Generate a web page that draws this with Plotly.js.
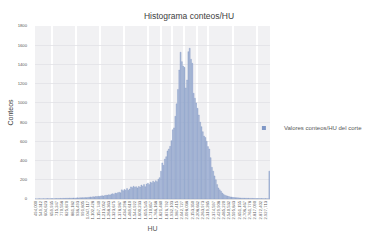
<!DOCTYPE html>
<html>
<head>
<meta charset="utf-8">
<script src="https://cdn.plot.ly/plotly-3.0.1.min.js"></script>
<style>html,body{margin:0;padding:0;background:#fff;}#chart{width:378px;height:244px;}</style>
</head>
<body>
<div id="chart"></div>
<script>
// Counts per HU bin
const counts = [
  2,1,2,3,2,2,3,2,3,4, 3,3,4,4,3,5,4,5,5,6,
  5,7,6,7,8,7,9,8,9,10, 9,11,12,11,13,12,14,13,15,14,
  16,18,21,19,24,22,26,25,28,27, 31,34,30,36,40,38,44,42,50,55,
  48,62,58,66,70,64,95,86,100,92, 108,90,104,126,118,132,122,128,115,130,
  124,145,132,150,128,155,165,150,175,168, 185,172,190,180,205,222,290,375,350,415,
  440,500,520,548,607,720,740,860,990,1140, 1342,1527,1429,1384,1370,1155,1238,1533,1568,1454,
  1412,1100,1048,999,944,874,800,752,700,655, 640,600,545,520,430,330,290,240,200,150,
  115,95,80,62,48,40,34,30,26,22, 20,18,16,14,13,12,11,10,9,9,
  8,8,7,7,6,6,6,5,5,5, 4,5,4,4,4,3,4,3,3,290
];

// Category tick labels (one every 4 bins)
const tickLabels = [
  "494,000","549,312","604,623","659,935","715,247","770,558","825,870","881,182","936,493","991,805",
  "1.047,117","1.102,428","1.157,740","1.213,052","1.268,363","1.323,675","1.378,987","1.434,298","1.489,610","1.544,922",
  "1.600,233","1.655,545","1.710,857","1.766,168","1.821,480","1.876,792","1.932,103","1.987,415","2.042,727","2.098,038",
  "2.153,350","2.208,662","2.263,973","2.319,285","2.374,597","2.429,908","2.485,220","2.540,532","2.595,843","2.651,155",
  "2.706,467","2.761,778","2.817,090","2.872,402","2.927,713"
];
const seriesName = "Valores conteos/HU del corte";

const labelEvery = 4;
const tickPositions = tickLabels.map((_, i) => i * labelEvery);
const gridPositions = [12.5, 30.9, 49.3, 67.7, 86.1, 96.0, 104.4, 113.6, 123.6, 132.0, 151.2, 169.6];

const font = "Liberation Sans, Arial, sans-serif";
const barFill = "#a9b9d8";
const barEdge = "#7c94c3";

const bars = {
  type: "bar",
  y: counts,
  name: seriesName,
  showlegend: false,
  marker: {color: barFill, line: {color: barEdge, width: 0.35}},
  hoverinfo: "none"
};
// legend-only entry with a small square key, as in the reference
const legendKey = {
  type: "scatter", mode: "markers",
  x: [null], y: [null],
  name: seriesName,
  showlegend: true,
  marker: {symbol: "square", size: 4, color: "#7f97c6"},
  hoverinfo: "none"
};

const layout = {
  width: 378, height: 244,
  margin: {l: 35, r: 108, t: 26, b: 45, pad: 0, autoexpand: false},
  paper_bgcolor: "#ffffff",
  plot_bgcolor: "#f1f1f3",
  font: {family: font, color: "#595959"},
  showlegend: true,
  bargap: 0.25,
  title: {text: "Histograma conteos/HU", x: 0.5, xanchor: "center", y: 0.934, yanchor: "middle",
          font: {family: font, size: 8.5, color: "#404040"}},
  xaxis: {
    range: [-0.5, counts.length - 0.5],
    tickmode: "array", tickvals: tickPositions, ticktext: tickLabels,
    tickangle: -90, tickfont: {size: 4.2, color: "#595959"},
    ticks: "", showgrid: false, zeroline: false, showline: false,
    minor: {tickmode: "array", tickvals: gridPositions, showgrid: true, gridcolor: "#ffffff", gridwidth: 1.6, ticks: ""},
    title: {text: "HU", font: {size: 7, color: "#595959"}, standoff: 7}
  },
  yaxis: {
    range: [0, 1800], dtick: 200, tickformat: "d",
    tickfont: {size: 4.2, color: "#595959"},
    ticklabelstandoff: 7,
    gridcolor: "#e2e2e6", gridwidth: 0.8,
    zeroline: true, zerolinecolor: "#d9d9d9", zerolinewidth: 0.8,
    title: {text: "Conteos", font: {size: 7, color: "#404040"}, standoff: 3}
  },
  legend: {x: 0.889, xanchor: "left", y: 0.41, yanchor: "middle", font: {size: 6, color: "#595959"},
           bgcolor: "rgba(0,0,0,0)", itemwidth: 30}
};

Plotly.newPlot("chart", [bars, legendKey], layout, {staticPlot: true, displayModeBar: false});
</script>
</body>
</html>
